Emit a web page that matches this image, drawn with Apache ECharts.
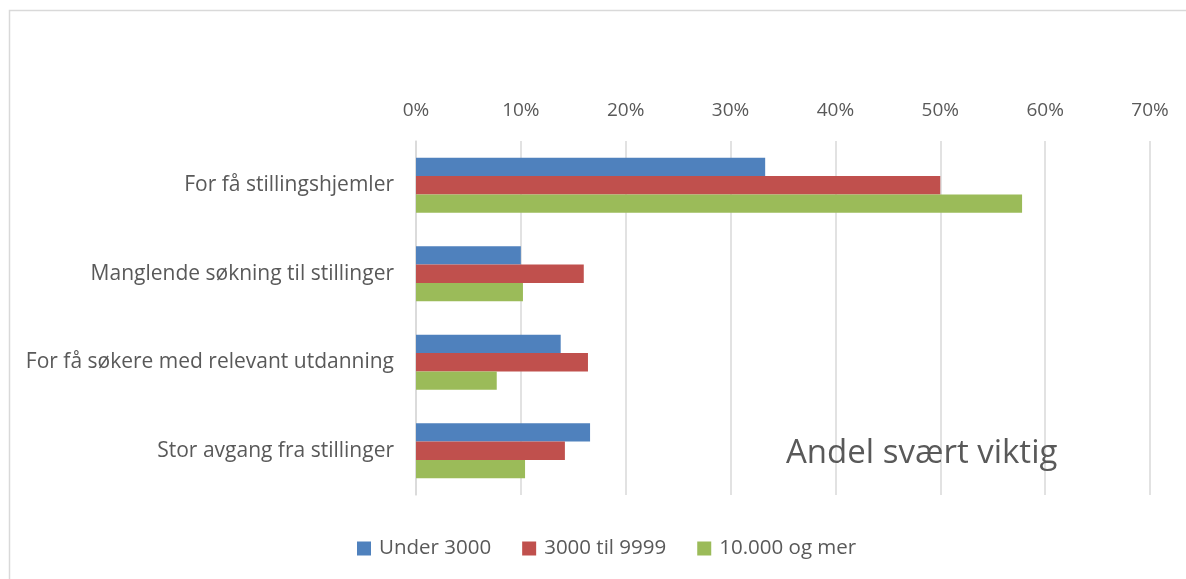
<!DOCTYPE html>
<html>
<head>
<meta charset="utf-8">
<script src="https://cdn.jsdelivr.net/npm/echarts@6/dist/echarts.min.js"></script>
<style>
  html, body { margin: 0; padding: 0; background: #fff; }
  #chart { width: 1186px; height: 579px; }
</style>
</head>
<body>
<div id="chart"></div>
<script>
var categories = ['For få stillingshjemler', 'Manglende søkning til stillinger', 'For få søkere med relevant utdanning', 'Stor avgang fra stillinger']
var seriesNames = ['Under 3000', '3000 til 9999', '10.000 og mer']
var under3000 = [33.3, 10.0, 13.8, 16.6]
var mid = [50.0, 16.0, 16.4, 14.2]
var over10000 = [57.8, 10.2, 7.7, 10.4]
var colors = ['#4f81bd', '#c0504d', '#9bbb59']

var font = '"Open Sans", "Liberation Sans", sans-serif'
var chart = echarts.init(document.getElementById('chart'), null, { renderer: 'canvas' })

function bar(name, data, color) {
  return {
    type: 'bar',
    name: name,
    data: data,
    barGap: '0%',
    barCategoryGap: '38%',
    itemStyle: { color: color },
    emphasis: { disabled: true }
  }
}

var option = {
  animation: false,
  textStyle: { fontFamily: font },
  graphic: [{
    type: 'rect',
    shape: { x: 9.5, y: 10.5, width: 1200, height: 620 },
    style: { fill: 'none', stroke: '#d9d9d9', lineWidth: 1.5 },
    z: -10
  }],
  title: {
    text: 'Andel svært viktig',
    left: 781,
    top: 432,
    textStyle: { fontSize: 33, fontWeight: 'normal', color: '#595959', fontFamily: font }
  },
  grid: { left: 416, right: 36, top: 141, bottom: 84 },
  legend: {
    bottom: 15,
    left: 352,
    itemWidth: 14,
    itemHeight: 14,
    itemGap: 31,
    icon: 'rect',
    textStyle: { fontSize: 20.5, color: '#595959', fontFamily: font, padding: [0, 0, 0, 3] },
    data: seriesNames
  },
  xAxis: {
    type: 'value',
    position: 'top',
    min: 0,
    max: 70,
    interval: 10,
    axisLine: { show: false },
    axisTick: { show: false },
    axisLabel: { formatter: '{value}%', fontSize: 19, color: '#595959', margin: 21 },
    splitLine: { lineStyle: { color: '#d9d9d9', width: 1.5 } }
  },
  yAxis: {
    type: 'category',
    inverse: true,
    data: categories,
    axisLine: { lineStyle: { color: '#d9d9d9', width: 1.5 } },
    axisTick: { show: false },
    axisLabel: { fontSize: 21, color: '#595959', margin: 22 }
  },
  series: [
    bar(seriesNames[0], under3000, colors[0]),
    bar(seriesNames[1], mid, colors[1]),
    bar(seriesNames[2], over10000, colors[2])
  ]
}

chart.setOption(option)
</script>
</body>
</html>
